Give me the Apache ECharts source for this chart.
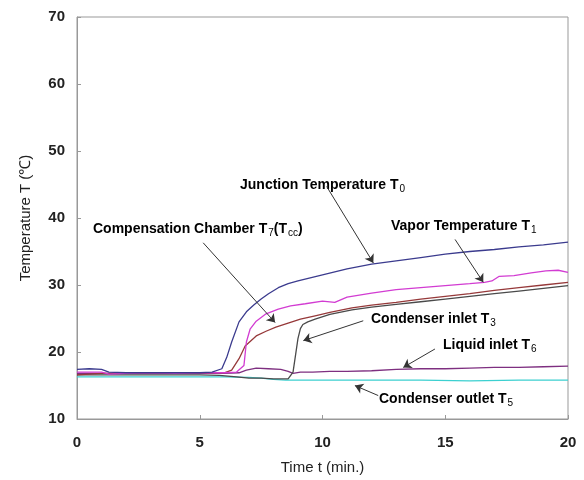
<!DOCTYPE html>
<html>
<head>
    <meta charset="UTF-8">
    <title>Temperature vs time</title>
    <script src="https://cdn.jsdelivr.net/npm/echarts@6/dist/echarts.min.js"></script>
</head>
<body style="margin:0">
<div id="main" style="width:584px;height:480px;"></div>
<script type="text/javascript">
    // values, time in min, temperature in degC
    var junctionTime = [0, 0.5, 1.0, 1.3, 2, 3, 4, 5, 5.5, 5.9, 6.1, 6.3, 6.6, 6.9, 7.2, 7.5, 7.8, 8.2, 8.6, 9.0, 10, 11, 12, 13, 14, 15, 16, 17, 18, 19, 20];
    var junctionT0 = [17.4, 17.5, 17.4, 17.0, 16.9, 16.9, 16.9, 16.9, 17.0, 17.5, 19.2, 21.5, 24.5, 26.0, 27.0, 27.9, 28.7, 29.6, 30.2, 30.6, 31.5, 32.4, 33.1, 33.6, 34.1, 34.6, 35.0, 35.3, 35.7, 36.0, 36.4];

    var vaporTime = [0, 1, 1.3, 2, 3, 4, 5, 6, 6.5, 6.8, 6.9, 7.05, 7.3, 7.7, 8.2, 8.7, 9.3, 10, 10.5, 11, 12, 13, 14, 15, 16, 16.6, 16.9, 17.2, 17.8, 18.5, 19.1, 19.6, 20];
    var vaporT1 = [17.0, 17.0, 16.7, 16.8, 16.9, 16.8, 16.9, 16.9, 17.0, 18.0, 21.5, 23.4, 24.6, 25.7, 26.4, 26.9, 27.2, 27.6, 27.4, 28.2, 28.8, 29.3, 29.6, 29.9, 30.2, 30.4, 30.6, 31.3, 31.4, 31.8, 32.1, 32.2, 31.9];

    var chamberTime = [0, 1, 2, 3, 4, 5, 6, 6.3, 6.6, 6.85, 7.3, 7.7, 8.1, 8.6, 9.1, 9.7, 10.3, 11.2, 12, 13, 14, 15, 16, 17, 18, 19, 20];
    var chamberT7 = [16.6, 16.8, 16.8, 16.9, 16.8, 16.9, 16.9, 17.3, 19.0, 20.9, 22.4, 23.1, 23.7, 24.3, 24.9, 25.4, 25.9, 26.6, 27.0, 27.4, 27.9, 28.3, 28.7, 29.2, 29.6, 30.0, 30.4];

    var inletTime = [0, 1, 2, 3, 4, 5, 5.8, 6.5, 7.0, 7.5, 8.0, 8.6, 8.8, 8.9, 9.0, 9.1, 9.2, 9.4, 9.7, 10.3, 11.2, 12, 13, 14, 15, 16, 17, 18, 19, 20];
    var inletT3 = [16.6, 16.6, 16.6, 16.6, 16.6, 16.6, 16.5, 16.3, 16.1, 16.1, 16.0, 16.0, 17.0, 19.5, 22.0, 23.5, 24.1, 24.5, 24.9, 25.6, 26.3, 26.7, 27.1, 27.5, 27.9, 28.3, 28.7, 29.1, 29.5, 29.9];

    var liquidTime = [0, 1, 2, 3, 4, 5, 6, 6.6, 6.9, 7.3, 7.8, 8.3, 8.6, 8.8, 9.1, 9.6, 10.3, 11, 12, 13, 14, 15, 16, 17, 18, 19, 20];
    var liquidT6 = [16.8, 16.8, 16.8, 16.8, 16.8, 16.8, 16.8, 16.9, 17.3, 17.6, 17.5, 17.4, 17.1, 16.8, 17.0, 17.0, 17.1, 17.1, 17.2, 17.4, 17.5, 17.5, 17.6, 17.7, 17.7, 17.8, 17.9];

    var outletTime = [0, 2, 4, 6, 7, 7.5, 8, 8.5, 10, 12, 14, 16, 18, 20];
    var outletT5 = [16.3, 16.3, 16.3, 16.3, 16.2, 16.1, 15.9, 15.8, 15.8, 15.8, 15.8, 15.7, 15.8, 15.8];

    // arrows: [fromTime, fromTemp, toTime, toTemp]
    var arrowJunction = [10.17, 44.7, 12.07, 33.3];
    var arrowChamber = [5.14, 36.3, 8.07, 24.4];
    var arrowVapor = [15.4, 36.8, 16.55, 30.4];
    var arrowInlet = [11.66, 24.66, 9.22, 21.7];
    var arrowLiquid = [14.58, 20.45, 13.29, 17.7];
    var arrowOutlet = [12.27, 13.5, 11.32, 14.99];

    function pairs(t, v) {
        var out = [];
        for (var i = 0; i < t.length; i++) out.push([t[i], v[i]]);
        return out;
    }
    function arrow(a) {
        return [{coord: [a[0], a[1]]}, {coord: [a[2], a[3]]}];
    }
    function line(name, t, v, color) {
        return {
            name: name, type: 'line', data: pairs(t, v), showSymbol: false,
            lineStyle: {color: color, width: 1.3}, itemStyle: {color: color}, animation: false
        };
    }

    var font = 'Arial, "Liberation Sans", sans-serif';
    var rich = {
        a: {fontSize: 14, fontWeight: 'bold', fontFamily: font, color: '#222', lineHeight: 18},
        s: {fontSize: 10, fontFamily: font, color: '#222', padding: [7, 0, 0, 1], lineHeight: 18}
    };
    function label(x, y, str) {
        return {type: 'text', left: x, top: y, style: {text: str, rich: rich}};
    }

    var myChart = echarts.init(document.getElementById('main'));
    var option = {
        animation: false,
        grid: {left: 77, right: 16, top: 17, bottom: 60, show: true, borderColor: '#999', borderWidth: 1},
        xAxis: {
            type: 'value', min: 0, max: 20, interval: 5,
            name: 'Time t (min.)', nameLocation: 'middle', nameGap: 41,
            nameTextStyle: {fontSize: 15, fontFamily: font, color: '#222'},
            axisLine: {lineStyle: {color: '#999'}},
            axisTick: {inside: true, length: 4, lineStyle: {color: '#999'}},
            axisLabel: {fontSize: 15, fontWeight: 'bold', fontFamily: font, color: '#222', margin: 16},
            splitLine: {show: false}
        },
        yAxis: {
            type: 'value', min: 10, max: 70, interval: 10,
            name: 'Temperature T (\u2103)', nameLocation: 'middle', nameGap: 44,
            nameTextStyle: {fontSize: 15, fontFamily: font, color: '#222'},
            axisLine: {show: true, lineStyle: {color: '#999'}},
            axisTick: {show: true, inside: true, length: 4, lineStyle: {color: '#999'}},
            axisLabel: {fontSize: 15, fontWeight: 'bold', fontFamily: font, color: '#222', margin: 12},
            splitLine: {show: false}
        },
        series: [
            line('T5', outletTime, outletT5, '#3cd0d0'),
            line('T6', liquidTime, liquidT6, '#7e2f80'),
            line('T3', inletTime, inletT3, '#4a4a4a'),
            line('T7', chamberTime, chamberT7, '#96393a'),
            line('T1', vaporTime, vaporT1, '#d23cd2'),
            line('T0', junctionTime, junctionT0, '#3b3b8e'),
            {
                type: 'line', data: [], silent: true,
                markLine: {
                    silent: true, symbol: ['none', 'arrow'], symbolSize: 8,
                    label: {show: false},
                    lineStyle: {color: '#333', width: 1, type: 'solid'},
                    data: [arrow(arrowJunction), arrow(arrowChamber), arrow(arrowVapor),
                        arrow(arrowInlet), arrow(arrowLiquid), arrow(arrowOutlet)]
                }
            }
        ],
        graphic: [
            label(240, 177, '{a|Junction Temperature T}{s|0}'),
            label(93, 221, '{a|Compensation Chamber T}{s|7}{a|(T}{s|cc}{a|)}'),
            label(391, 218, '{a|Vapor Temperature T}{s|1}'),
            label(371, 311, '{a|Condenser inlet T}{s|3}'),
            label(443, 337, '{a|Liquid inlet T}{s|6}'),
            label(379, 391, '{a|Condenser outlet T}{s|5}')
        ]
    };
    myChart.setOption(option);
</script>
</body>
</html>
